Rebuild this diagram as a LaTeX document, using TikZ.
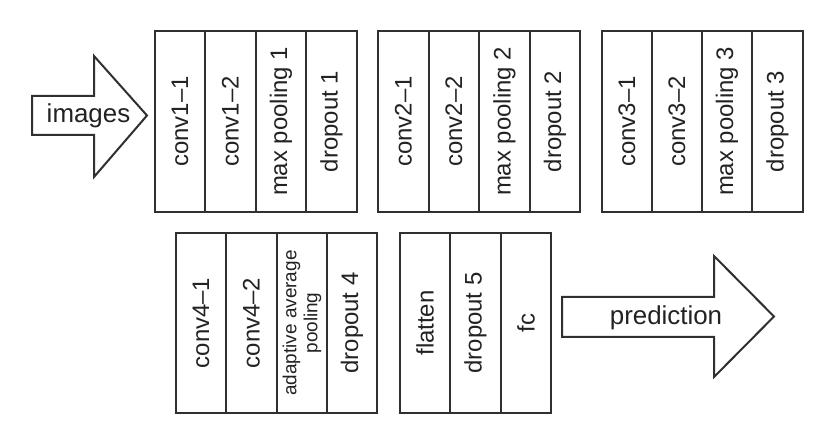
\documentclass[tikz,border=0pt]{standalone}
\usepackage{fontspec}
\setmainfont{Liberation Sans}
\definecolor{ink}{HTML}{303030}
\definecolor{txt}{HTML}{222222}
\tikzset{
  col/.style={draw=ink, line width=2bp, rectangle, inner sep=0pt, rotate=90,
    text=txt, font=\fontsize{24}{26}\selectfont},
  top/.style={minimum width=181bp},
  bot/.style={minimum width=180bp},
  bigarrow/.style={draw=ink, line width=2bp, line join=miter, fill=white},
  lbl/.style={inner sep=0pt, text=txt, font=\fontsize{26}{30}\selectfont}
}
\begin{document}
\begin{tikzpicture}[x=1bp,y=-1bp]
\useasboundingbox[fill=white] (0,0) rectangle (835,447);
% input arrow
\draw[bigarrow] (32,96) -- (94,96) -- (94,56) -- (147,115.5) -- (94,177) -- (94,135) -- (32,135) -- cycle;
\node[lbl] (images) at (88.5,116) {images};
% block 1
\foreach \n/\x/\w/\t in {c11/180/50/conv1–1, c12/230.5/51/conv1–2, mp1/281/50/max pooling 1, do1/331.5/51/dropout 1}
  \node[col, top, minimum height=\w bp] (\n) at (\x,121.5) {\t};
% block 2
\foreach \n/\x/\w/\t in {c21/403.5/51/conv2–1, c22/454/50/conv2–2, mp2/504.5/51/max pooling 2, do2/555/50/dropout 2}
  \node[col, top, minimum height=\w bp] (\n) at (\x,121.5) {\t};
% block 3
\foreach \n/\x/\w/\t in {c31/627/50/conv3–1, c32/677/50/conv3–2, mp3/727/50/max pooling 3, do3/777.5/51/dropout 3}
  \node[col, top, minimum height=\w bp] (\n) at (\x,121.5) {\t};
% block 4
\node[col, bot, minimum height=50bp] (c41) at (201,323) {conv4–1};
\node[col, bot, minimum height=51bp] (c42) at (251.5,323) {conv4–2};
\node[col, bot, minimum height=50bp, align=center, font=\fontsize{19}{21}\selectfont] (aap) at (302,323) {adaptive average\\pooling};
\node[col, bot, minimum height=50bp] (do4) at (352,323) {dropout 4};
% block 5
\node[col, bot, minimum height=50bp] (fl) at (425,323) {flatten};
\node[col, bot, minimum height=51bp] (do5) at (475.5,323) {dropout 5};
\node[col, bot, minimum height=50bp] (fc) at (526,323) {fc};
% output arrow
\draw[bigarrow] (562,297) -- (714,297) -- (714,256) -- (774,316.5) -- (714,377) -- (714,337) -- (562,337) -- cycle;
\node[lbl] (pred) at (666,318) {prediction};
\end{tikzpicture}
\end{document}
